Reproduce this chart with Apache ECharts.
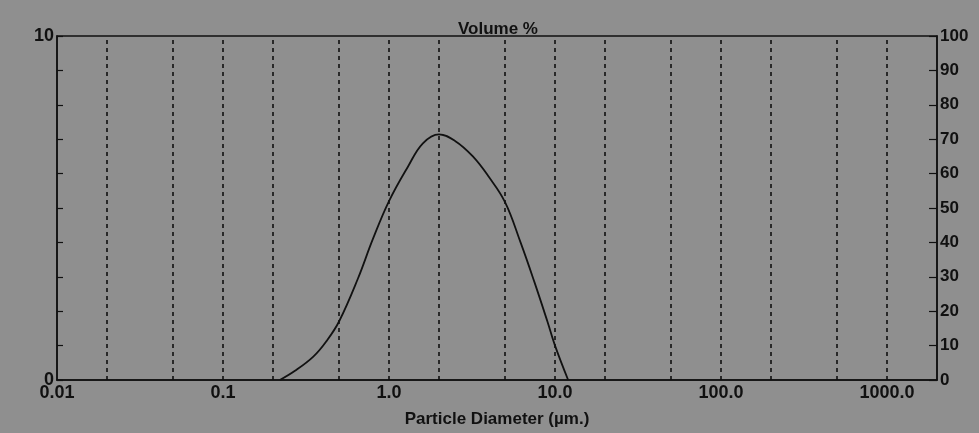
<!DOCTYPE html>
<html>
<head>
    <meta charset="UTF-8">
    <title>Volume %</title>
    <script src="https://cdn.jsdelivr.net/npm/echarts@6/dist/echarts.min.js"></script>
</head>
<body style="margin:0;background:#8f8f8f;">
<div id="main" style="width: 979px;height:433px;"></div>
<script type="text/javascript">
    // particle diameter (um) and volume %
    const diameter = [0.22, 0.27, 0.35, 0.42, 0.5, 0.65, 0.8, 1.0, 1.3, 1.6, 2.0, 2.5, 3.2, 4.0, 5.0, 6.2, 7.5, 9.0, 10.0, 12.0];
    const volume = [0, 0.26, 0.68, 1.13, 1.7, 2.95, 4.1, 5.2, 6.2, 6.88, 7.14, 6.95, 6.5, 5.9, 5.17, 4.0, 2.86, 1.7, 1.0, 0];

    // dashed vertical grid lines (1-2-5 steps)
    const gridValues = [0.02, 0.05, 0.1, 0.2, 0.5, 1, 2, 5, 10, 20, 50, 100, 200, 500, 1000];

    // tick labels
    const xTickLabels = ['0.01', '0.1', '1.0', '10.0', '100.0', '1000.0'];
    const leftTickLabels = ['0', '10'];

    const ink = '#111111';
    const font = 'Liberation Sans';

    var myChart = echarts.init(document.getElementById('main'));

    let option = {
        animation: false,
        backgroundColor: '#8f8f8f',
        title: {
            text: 'Volume %',
            left: 493,
            top: 16,
            textAlign: 'center',
            textStyle: {
                color: ink,
                fontFamily: font,
                fontSize: 17,
                fontWeight: 'bold'
            }
        },
        grid: {
            left: 57,
            right: 42,
            top: 36,
            bottom: 51,
            show: true,
            borderColor: ink,
            borderWidth: 1.5,
            backgroundColor: 'transparent'
        },
        xAxis: {
            type: 'log',
            logBase: 10,
            min: 0.01,
            max: 2000,
            name: 'Particle Diameter (\u00b5m.)',
            nameLocation: 'middle',
            nameGap: 31,
            nameTextStyle: {
                color: ink,
                fontFamily: font,
                fontSize: 17,
                fontWeight: 'bold'
            },
            axisLine: {lineStyle: {color: ink, width: 1.5}},
            axisTick: {show: false},
            splitLine: {show: false},
            axisLabel: {
                color: ink,
                fontFamily: font,
                fontSize: 18,
                fontWeight: 'bold',
                margin: 4,
                showMaxLabel: false,
                formatter: function (v) {
                    let e = Math.log10(v);
                    let r = Math.round(e);
                    if (Math.abs(e - r) > 0.01) return '';
                    return xTickLabels[r + 2] || '';
                }
            }
        },
        yAxis: [
            {
                type: 'value',
                min: 0,
                max: 10,
                interval: 1,
                position: 'left',
                axisLine: {show: true, lineStyle: {color: ink, width: 1.5}},
                axisTick: {show: true, inside: true, length: 6, lineStyle: {color: ink, width: 1.2}},
                splitLine: {show: false},
                axisLabel: {
                    color: ink,
                    fontFamily: font,
                    fontSize: 18,
                    fontWeight: 'bold',
                    margin: 3,
                    padding: [0, 0, 8, 0],
                    formatter: function (v) {
                        if (v === 0) return leftTickLabels[0];
                        if (v === 10) return leftTickLabels[1];
                        return '';
                    }
                }
            },
            {
                type: 'value',
                min: 0,
                max: 100,
                interval: 10,
                position: 'right',
                axisLine: {show: true, lineStyle: {color: ink, width: 1.5}},
                axisTick: {show: true, inside: true, length: 8, lineStyle: {color: ink, width: 1.2}},
                splitLine: {show: false},
                axisLabel: {
                    color: ink,
                    fontFamily: font,
                    fontSize: 17,
                    fontWeight: 'bold',
                    margin: 3,
                    padding: [0, 0, 6, 0]
                }
            }
        ],
        series: [
            {
                type: 'line',
                yAxisIndex: 0,
                smooth: 0.4,
                symbol: 'none',
                lineStyle: {color: ink, width: 1.8},
                data: diameter.map((d, i) => [d, volume[i]]),
                markLine: {
                    silent: true,
                    symbol: 'none',
                    label: {show: false},
                    lineStyle: {color: ink, width: 1.6, type: [4, 4]},
                    data: gridValues.map(v => ({xAxis: v}))
                }
            }
        ]
    };

    myChart.setOption(option);
</script>
</body>
</html>
